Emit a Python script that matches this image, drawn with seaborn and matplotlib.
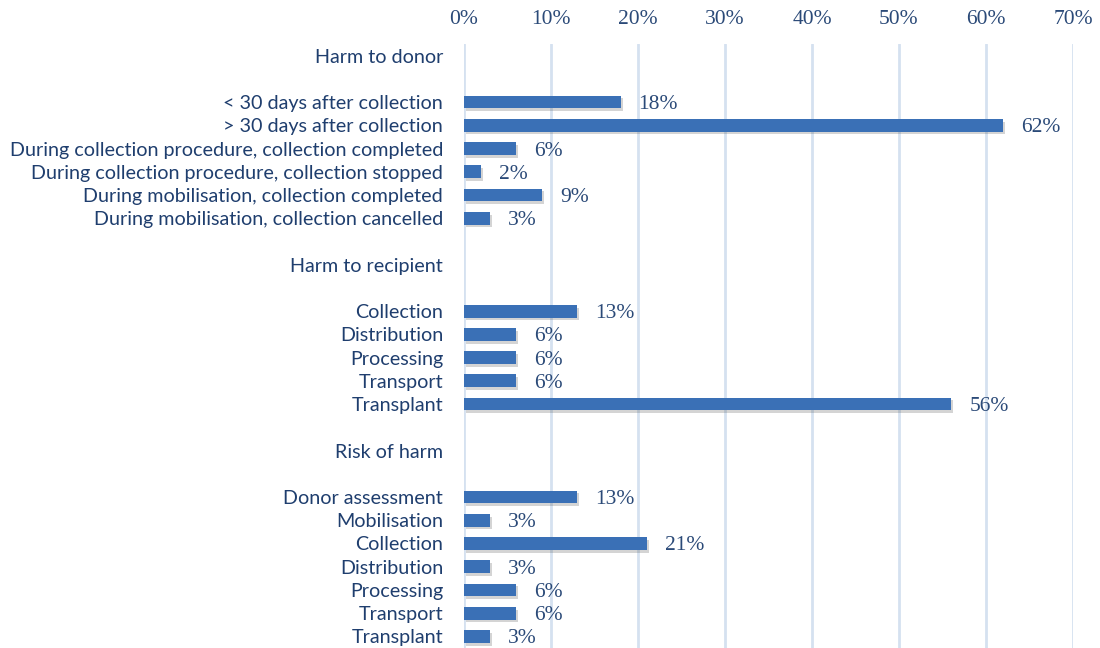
import matplotlib
matplotlib.use("Agg")
import matplotlib.pyplot as plt
import matplotlib.patheffects as pe
import seaborn as sns
import pandas as pd
import numpy as np

groups = ["Harm to donor", "Harm to recipient", "Risk of harm"]
donor_labels = ["< 30 days after collection", "> 30 days after collection",
                "During collection procedure, collection completed",
                "During collection procedure, collection stopped",
                "During mobilisation, collection completed",
                "During mobilisation, collection cancelled"]
donor_values = [18, 62, 6, 2, 9, 3]
recipient_labels = ["Collection", "Distribution", "Processing", "Transport", "Transplant"]
recipient_values = [13, 6, 6, 6, 56]
risk_labels = ["Donor assessment", "Mobilisation", "Collection", "Distribution",
               "Processing", "Transport", "Transplant"]
risk_values = [13, 3, 21, 3, 6, 6, 3]
x_ticks = [0, 10, 20, 30, 40, 50, 60, 70]

# build row layout: header, blank, items, blank ...
tick_pos, tick_lab = [], []
rows = []
pos = 0
for g, labs, vals in zip(groups,
                         [donor_labels, recipient_labels, risk_labels],
                         [donor_values, recipient_values, risk_values]):
    tick_pos.append(pos); tick_lab.append(g)
    pos += 2
    for l, v in zip(labs, vals):
        tick_pos.append(pos); tick_lab.append(l)
        rows.append({"pos": pos, "value": v / 100.0})
        pos += 1
    pos += 1
df = pd.DataFrame(rows)

sns.set_style("white")
plt.rcParams["font.family"] = ["Lato", "DejaVu Sans"]

fig = plt.figure(figsize=(11, 6.48), dpi=100)
ax = fig.add_axes([464/1100, 0.0, (1073-464)/1100, 1 - 44/648])

bar_color = "#3A70B6"
sns.barplot(data=df, x="value", y="pos", orient="y", native_scale=True,
            color=bar_color, width=0.55, saturation=1, ax=ax, zorder=3)
for p in ax.patches:
    p.set_linewidth(0)
    p.set_path_effects([pe.SimplePatchShadow(offset=(1.5, -2), alpha=0.25, shadow_rgbFace="#555555"),
                        pe.Normal()])

ax.set_xlim(0, 0.70)
ax.set_ylim(25.5, -0.5)
ax.xaxis.tick_top()
ax.set_xticks([t / 100 for t in x_ticks])
ax.set_xticklabels([f"{t}%" for t in x_ticks], family=["Liberation Serif"], fontsize=15.5,
                   color="#2B4A78")
ax.tick_params(axis="x", length=0, pad=10.5)
ax.set_yticks(tick_pos)
ax.set_yticklabels(tick_lab, fontsize=14.2, color="#1F3E6E")
ax.tick_params(axis="y", length=0, pad=15)
ax.grid(axis="x", color="#D5E1F0", linewidth=2, zorder=0)
ax.grid(axis="y", visible=False)
for s in ax.spines.values():
    s.set_visible(False)
ax.set_xlabel("")
ax.set_ylabel("")

for _, r in df.iterrows():
    ax.annotate(f"{int(round(r['value']*100))}%", (r["value"], r["pos"]),
                xytext=(18, -2.5), textcoords="offset pixels",
                va="center", ha="left", family=["Liberation Serif"], fontsize=15.5,
                color="#2B4A78")

fig.savefig("out.png", dpi=100)
